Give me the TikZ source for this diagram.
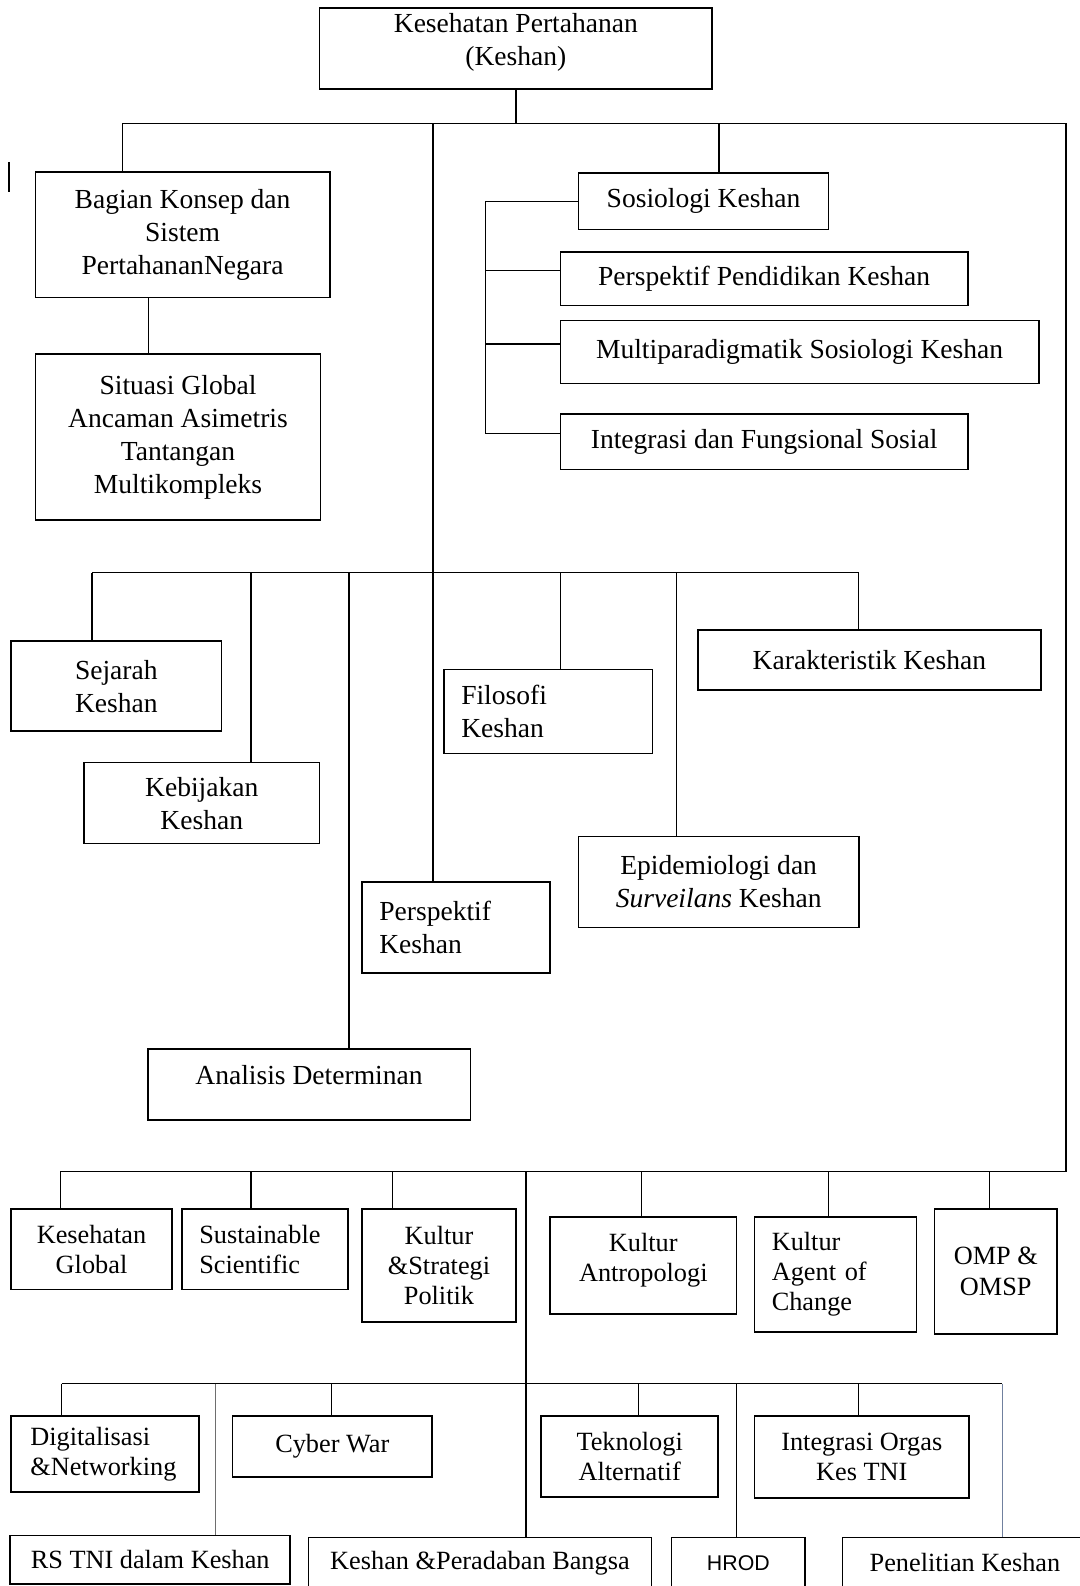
\documentclass[tikz,border=0pt]{standalone}
\usepackage{fontspec}
\setmainfont{Liberation Serif}
\newfontfamily\hrodfont{Liberation Sans}
\tikzstyle{orgbox} = [draw, rectangle, line width=0.9pt, inner sep=0pt, align=center, font=\fontsize{15.5}{18.6}\selectfont]
\tikzstyle{lowbox} = [orgbox, font=\fontsize{14.8}{17}\selectfont]
\tikzstyle{leftbox} = [align=left]
\tikzstyle{link} = [line width=0.8pt]
\definecolor{rsgrey}{RGB}{110,110,110}
\definecolor{penblue}{RGB}{112,128,158}

\begin{document}
\begin{tikzpicture}[x=0.02cm, y=-0.02cm]
    \useasboundingbox (0,0) rectangle (1067,1568);

    % top part
    \node[orgbox, minimum width=7.76cm, minimum height=1.6cm] (keshan) at (510,48) {Kesehatan Pertahanan\\(Keshan)\\[-0.3cm]};
    \node[orgbox, minimum width=5.82cm, minimum height=2.48cm] (bagian) at (180.5,232) {Bagian Konsep dan\\Sistem\\PertahananNegara};
    \node[orgbox, minimum width=5.64cm, minimum height=3.28cm] (situasi) at (176,432) {Situasi Global\\Ancaman Asimetris\\Tantangan\\Multikompleks};
    \node[orgbox, minimum width=4.94cm, minimum height=1.12cm] (sosio) at (695.5,199) {Sosiologi Keshan};
    \node[orgbox, minimum width=8.06cm, minimum height=1.06cm] (perspp) at (755.5,275.5) {Perspektif Pendidikan Keshan};
    \node[orgbox, minimum width=9.46cm, minimum height=1.24cm] (multi) at (790.5,348) {Multiparadigmatik Sosiologi Keshan};
    \node[orgbox, minimum width=8.06cm, minimum height=1.10cm] (integ) at (755.5,436.5) {Integrasi dan Fungsional Sosial};

    % middle part
    \node[orgbox, minimum width=4.16cm, minimum height=1.78cm] (sejarah) at (115,678.5) {Sejarah\\Keshan};
    \node[orgbox, minimum width=4.66cm, minimum height=1.60cm] (kebijakan) at (199.5,794) {Kebijakan\\Keshan};
    \node[orgbox, minimum width=6.38cm, minimum height=1.40cm] (analisis) at (305.5,1072) {Analisis Determinan\\[-0.3cm]};
    \node[orgbox, leftbox, text width=3.04cm, minimum width=3.72cm, minimum height=1.80cm] (perspk) at (451,917) {Perspektif\\Keshan};
    \node[orgbox, leftbox, text width=3.44cm, minimum width=4.12cm, minimum height=1.66cm] (filosofi) at (542,703.5) {Filosofi\\Keshan};
    \node[orgbox, minimum width=5.54cm, minimum height=1.80cm] (epi) at (710.5,872) {Epidemiologi dan\\\textit{Surveilans} Keshan};
    \node[orgbox, minimum width=6.78cm, minimum height=1.18cm] (karak) at (859.5,652.5) {Karakteristik Keshan};

    % lower part
    \node[lowbox, minimum width=3.18cm, minimum height=1.60cm] (kglobal) at (90.5,1235) {Kesehatan\\Global};
    \node[lowbox, leftbox, text width=2.6cm, minimum width=3.28cm, minimum height=1.60cm] (sustain) at (262,1235) {Sustainable\\Scientific};
    \node[lowbox, minimum width=3.04cm, minimum height=2.24cm] (kstrat) at (434,1251) {Kultur\\\&Strategi\\Politik};
    \node[lowbox, minimum width=3.68cm, minimum height=1.92cm] (kantro) at (636,1251) {Kultur\\Antropologi\\[-0.28cm]};
    \node[lowbox, leftbox, text width=2.52cm, minimum width=3.20cm, minimum height=2.28cm] (kagent) at (826,1260) {Kultur\\Agent of\\Change};
    \node[lowbox, minimum width=2.42cm, minimum height=2.48cm] (omp) at (984.5,1257) {OMP \&\\OMSP};
    \node[lowbox, leftbox, text width=2.96cm, minimum width=3.72cm, minimum height=1.50cm] (digital) at (104,1437.5) {Digitalisasi\\\&Networking};
    \node[lowbox, minimum width=3.94cm, minimum height=1.20cm] (cyber) at (328.5,1430) {Cyber War};
    \node[lowbox, minimum width=3.50cm, minimum height=1.60cm] (tekno) at (622.5,1440) {Teknologi\\Alternatif};
    \node[lowbox, minimum width=4.24cm, minimum height=1.62cm] (intorg) at (852,1440.5) {Integrasi Orgas\\Kes TNI};
    \node[lowbox, minimum width=5.54cm, minimum height=0.96cm] (rstni) at (148.5,1542) {RS TNI dalam Keshan};
    \node[lowbox, minimum width=6.78cm, minimum height=1.00cm] (peradaban) at (474.5,1545) {Keshan \&Peradaban Bangsa};
    \node[lowbox, minimum width=2.64cm, minimum height=1.00cm, font=\hrodfont\fontsize{12}{14}\selectfont] (hrod) at (730,1545) {HROD};
    \node[lowbox, minimum width=4.84cm, minimum height=1.00cm] (penel) at (954,1545) {Penelitian Keshan};

    % stray mark left of Bagian
    \draw[link] (9,160) -- (9,190);

    % first bus
    \coordinate (a_bag) at (121,122);
    \coordinate (a_trk) at (428,122);
    \coordinate (a_sos) at (711,122);
    \coordinate (a_end) at (1054,122);
    \coordinate (c_end) at (1054,1158);
    \coordinate (c_kg) at (60,1158);
    \draw[link] (keshan.south) -- (keshan.south |- a_end);
    \draw[link] (a_bag) -- (a_end) -- (c_end) -- (c_kg);
    \draw[link] (a_bag) -- (a_bag |- bagian.north);
    \draw[link] (a_sos) -- (a_sos |- sosio.north);
    \draw[link] (a_trk) -- (a_trk |- perspk.north);
    \coordinate (bs) at (147,0);
    \draw[link] (bagian.south -| bs) -- (situasi.north -| bs);

    % sosiologi branches
    \coordinate (spine) at (480,0);
    \draw[link] (sosio.west) -- (sosio.west -| spine) -- ([yshift=4.5pt]integ.west -| spine) -- ([yshift=4.5pt]integ.west);
    \draw[link] ([yshift=4.5pt]perspp.west -| spine) -- ([yshift=4.5pt]perspp.west);
    \draw[link] ([yshift=4.5pt]multi.west -| spine) -- ([yshift=4.5pt]multi.west);

    % second bus
    \coordinate (b_sej) at (91,566);
    \coordinate (b_keb) at (248,566);
    \coordinate (b_ana) at (345,566);
    \coordinate (b_fil) at (554,566);
    \coordinate (b_epi) at (669,566);
    \coordinate (b_kar) at (849,566);
    \draw[link] (b_sej) -- (b_kar);
    \draw[link] (b_sej) -- (b_sej |- sejarah.north);
    \draw[link] (b_keb) -- (b_keb |- kebijakan.north);
    \draw[link] (b_ana) -- (b_ana |- analisis.north);
    \draw[link] (b_fil) -- (b_fil |- filosofi.north);
    \draw[link] (b_epi) -- (b_epi |- epi.north);
    \draw[link] (b_kar) -- (b_kar |- karak.north);

    % third bus
    \coordinate (c_ss) at (248,1158);
    \coordinate (c_ksp) at (388,1158);
    \coordinate (c_trk) at (520,1158);
    \coordinate (c_ka) at (634,1158);
    \coordinate (c_kac) at (819,1158);
    \coordinate (c_omp) at (978,1158);
    \draw[link] (c_kg) -- (c_kg |- kglobal.north);
    \draw[link] (c_ss) -- (c_ss |- sustain.north);
    \draw[link] (c_ksp) -- (c_ksp |- kstrat.north);
    \draw[link] (c_ka) -- (c_ka |- kantro.north);
    \draw[link] (c_kac) -- (c_kac |- kagent.north);
    \draw[link] (c_omp) -- (c_omp |- omp.north);
    \draw[link] (c_trk) -- (c_trk |- peradaban.north);

    % fourth bus
    \coordinate (d_dig) at (61,1368);
    \coordinate (d_rs) at (213,1368);
    \coordinate (d_cw) at (328,1368);
    \coordinate (d_tek) at (631,1368);
    \coordinate (d_hr) at (728,1368);
    \coordinate (d_io) at (849,1368);
    \coordinate (d_pen) at (991,1368);
    \draw[link] (d_dig) -- (d_pen);
    \draw[link] (d_dig) -- (d_dig |- digital.north);
    \draw[link, rsgrey] (d_rs) -- (d_rs |- rstni.north);
    \draw[link] (d_cw) -- (d_cw |- cyber.north);
    \draw[link] (d_tek) -- (d_tek |- tekno.north);
    \draw[link] (d_hr) -- (d_hr |- hrod.north);
    \draw[link] (d_io) -- (d_io |- intorg.north);
    \draw[link, penblue] (d_pen) -- (d_pen |- penel.north);
\end{tikzpicture}
\end{document}
